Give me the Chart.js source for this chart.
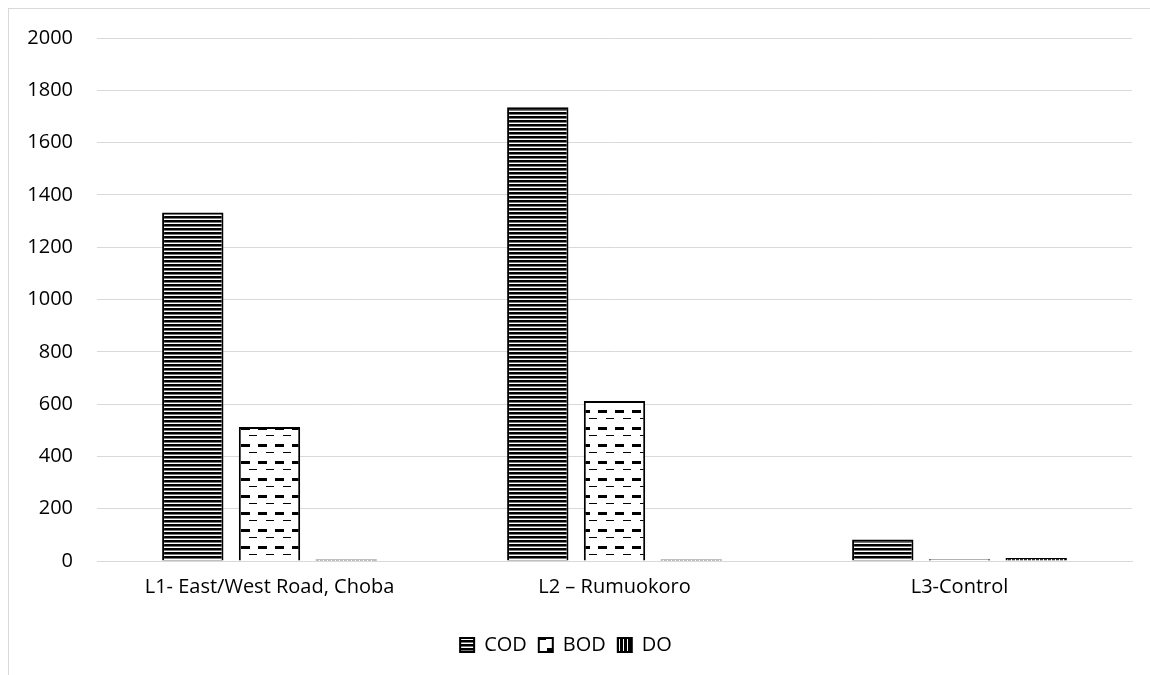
<!DOCTYPE html>
<html>
<head>
<meta charset="utf-8">
<script src="https://cdn.jsdelivr.net/npm/chart.js@4.4.1/dist/chart.umd.min.js"></script>
<style>
  html, body { margin: 0; padding: 0; background: #fff; overflow: hidden; }
  #frame { position: absolute; left: 8px; top: 8px; width: 1200px; height: 720px; border: 1px solid #d9d9d9; }
  #wrap { position: absolute; left: 0; top: 0; width: 1150px; height: 675px; }
</style>
</head>
<body>
<div id="frame"></div>
<div id="wrap"><canvas id="chart" width="1150" height="675"></canvas></div>
<script>
// 카테고리, 시리즈 값
const categories = ['L1- East/West Road, Choba', 'L2 \u2013 Rumuokoro', 'L3-Control'];
const codValues = [1333, 1735, 82];
const bodValues = [512, 612, 7];
const doValues = [6, 6, 11];
const yTicks = [0, 200, 400, 600, 800, 1000, 1200, 1400, 1600, 1800, 2000];

const FONT = '"Open Sans", sans-serif';

// 패턴 만들기
function makePattern(w, h, draw) {
  const c = document.createElement('canvas');
  c.width = w; c.height = h;
  const g = c.getContext('2d');
  g.fillStyle = '#fff';
  g.fillRect(0, 0, w, h);
  draw(g);
  return g.createPattern(c, 'repeat');
}

// COD: 가로줄
const codPattern = makePattern(4, 4, g => {
  g.fillStyle = '#000';
  g.fillRect(0, 0, 4, 2);
  g.fillStyle = '#777';
  g.fillRect(0, 2, 4, 1);
});

// BOD: 점선
const bodPattern = makePattern(17, 17, g => {
  g.fillStyle = '#000';
  g.fillRect(3, 2, 9, 3);
  g.fillRect(11, 10, 8, 1);
  g.fillRect(0, 10, 2, 1);
});

// DO: 세로줄
const doPattern = makePattern(4, 4, g => {
  g.fillStyle = '#000';
  g.fillRect(0, 0, 3, 4);
});

const ctx = document.getElementById('chart');
new Chart(ctx, {
  type: 'bar',
  data: {
    labels: categories,
    datasets: [{
      label: 'COD',
      data: codValues,
      backgroundColor: codPattern,
      borderColor: '#000',
      borderWidth: 2
    }, {
      label: 'BOD',
      data: bodValues,
      backgroundColor: bodPattern,
      borderColor: '#000',
      borderWidth: 2
    }, {
      label: 'DO',
      data: doValues,
      backgroundColor: doPattern,
      borderColor: '#000',
      borderWidth: 2
    }]
  },
  options: {
    responsive: false,
    animation: false,
    devicePixelRatio: 1,
    categoryPercentage: 0.667,
    barPercentage: 0.8,
    layout: {
      padding: { top: 38, right: 18, left: 0, bottom: 10 }
    },
    scales: {
      x: {
        grid: { display: false, drawTicks: false },
        border: { display: true, color: '#d9d9d9', width: 1 },
        ticks: {
          color: '#000',
          padding: 14,
          font: { family: FONT, size: 20 }
        },
        afterFit: scale => { scale.height = 62; }
      },
      y: {
        min: 0,
        max: 2000,
        afterBuildTicks: scale => { scale.ticks = yTicks.map(v => ({ value: v })); },
        grid: { color: '#d9d9d9', lineWidth: 1, drawTicks: false },
        border: { display: false },
        ticks: {
          color: '#000',
          padding: 24,
          font: { family: FONT, size: 20 },
          callback: v => String(v)
        },
        afterFit: scale => { scale.width = 97; }
      }
    },
    plugins: {
      legend: {
        position: 'bottom',
        labels: {
          color: '#000',
          boxWidth: 14,
          boxHeight: 14,
          padding: 12,
          font: { family: FONT, size: 20 }
        }
      },
      tooltip: { enabled: false }
    }
  }
});
</script>
</body>
</html>
